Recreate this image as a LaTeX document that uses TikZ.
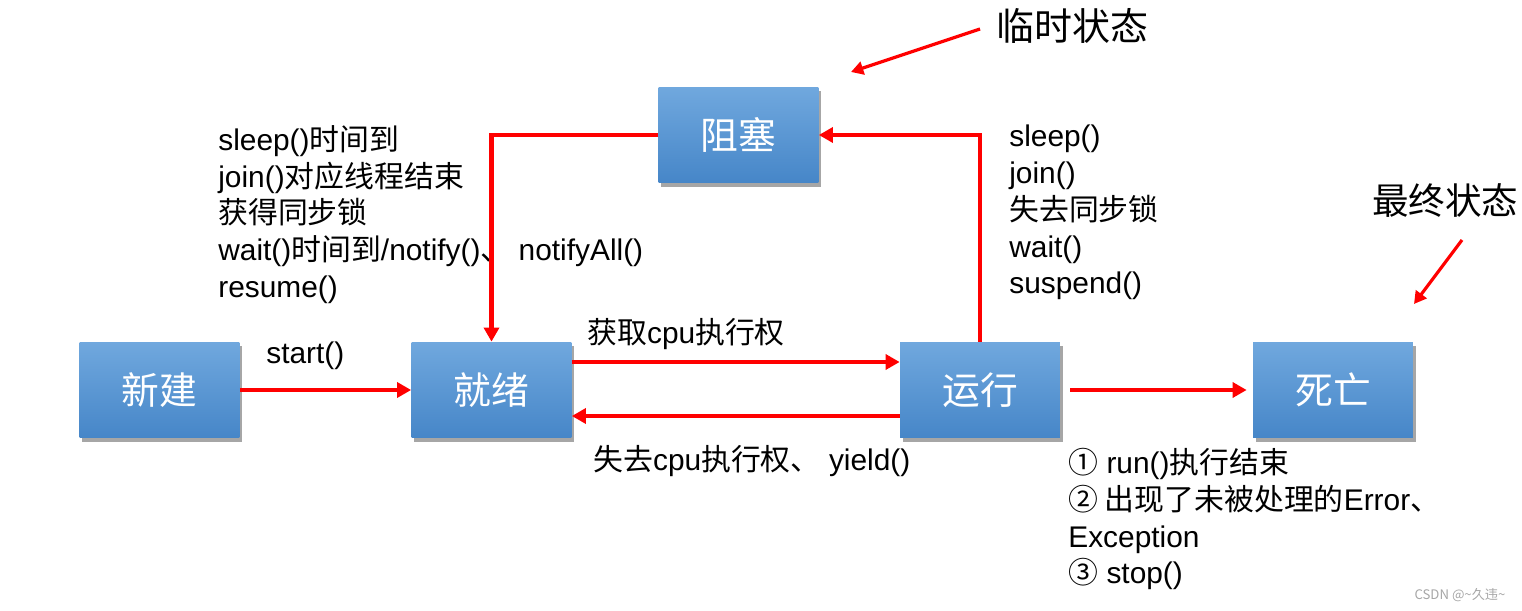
\documentclass[tikz,border=0pt]{standalone}
\usepackage{fontspec}
\setmainfont{Liberation Sans}
\newfontfamily\cjk{Noto Sans CJK SC}
\newcommand\zh[1]{{\cjk #1}}
\usetikzlibrary{arrows.meta,shadows,calc}
\definecolor{boxtop}{RGB}{112,168,222}
\definecolor{boxbot}{RGB}{70,134,200}
\begin{document}
\begin{tikzpicture}[x=0.02cm,y=-0.02cm,
  state/.style={rectangle, minimum width=3.2cm, minimum height=1.92cm, inner sep=0pt,
    top color=boxtop, bottom color=boxbot, text=white, font=\cjk\fontsize{21.5}{24}\selectfont,
    drop shadow={shadow xshift=1.6pt, shadow yshift=-2.2pt, opacity=0.35, fill=black}},
  lbl/.style={inner sep=0pt, align=left, font=\fontsize{17}{20.9}\selectfont},
  big/.style={inner sep=0pt, font=\cjk\fontsize{21.6}{26}\selectfont},
  arr/.style={draw=red, line width=2.3pt, -{Triangle[length=8pt,width=8.5pt]}},
  note/.style={draw=red, line width=1.8pt, -{Triangle[length=7pt,width=7.5pt]}}]
\useasboundingbox (0,0) rectangle (1522,611);

\node[state] (xinjian) at (159.5,390) {新建};
\node[state] (jiuxu) at (491.5,390) {就绪};
\node[state] (yunxing) at (980,390) {运行};
\node[state] (siwang) at (1333,390) {死亡};
\node[state] (zusai) at (738.5,135) {阻塞};

\node[lbl, anchor=north west] (lblL) at (218,125) {sleep()\zh{时间到}\\join()\zh{对应线程结束}\\\zh{获得同步锁}\\wait()\zh{时间到}/notify()\zh{、} notifyAll()\\resume()};
\node[lbl, anchor=north west] (lblR) at (1009,125) {sleep()\\join()\\\zh{失去同步锁}\\wait()\\suspend()};
\node[lbl, anchor=west] (lblstart) at (266,356) {start()};
\node[lbl, anchor=west] (lblget) at (587,334) {\zh{获取}cpu\zh{执行权}};
\node[lbl, anchor=west] (lbllose) at (593,461) {\zh{失去}cpu\zh{执行权、} yield()};
\node[lbl, anchor=north west] (lblD) at (1068,448) {\zh{①} run()\zh{执行结束}\\\zh{② 出现了未被处理的}Error\zh{、}\\Exception\\\zh{③} stop()};

\node[big, anchor=west] (tmp) at (996,26) {临时状态};
\node[big, anchor=west, font=\cjk\fontsize{20.8}{26}\selectfont] (fin) at (1372,201) {最终状态};
\node[inner sep=0pt, text=gray!70, font=\cjk\fontsize{7.5}{9}\selectfont] (wm) at (1460,595) {CSDN @\textasciitilde 久违\textasciitilde};

\draw[arr] (xinjian.east) -- (jiuxu.west);
\draw[arr] ($(jiuxu.east)+(0,-28)$) -- ($(yunxing.west)+(0,-28)$);
\draw[arr] ($(yunxing.west)+(0,26)$) -- ($(jiuxu.east)+(0,26)$);
\draw[arr] ($(yunxing.east)+(10,0)$) -- ($(siwang.west)+(-6,0)$);
\draw[arr] (yunxing.north) |- (zusai.east);
\draw[arr] (zusai.west) -| (jiuxu.north);

\coordinate (n1s) at (980,29);
\coordinate (n1e) at (851,72);
\coordinate (n2s) at (1462,240);
\coordinate (n2e) at (1414,304);
\draw[note] (n1s) -- (n1e);
\draw[note] (n2s) -- (n2e);
\end{tikzpicture}
\end{document}
